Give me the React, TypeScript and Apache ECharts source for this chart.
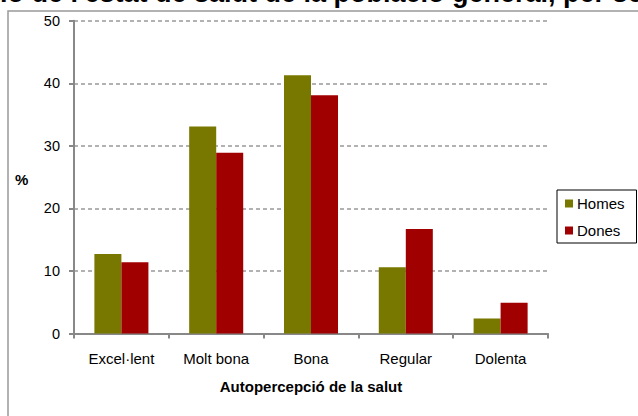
import React, { useEffect, useRef } from "react";
import * as echarts from "echarts";

const categories = ["Excel·lent", "Molt bona", "Bona", "Regular", "Dolenta"];
const homes = [12.7, 33.1, 41.3, 10.6, 2.4];
const dones = [11.4, 28.9, 38.1, 16.7, 4.9];
const seriesNames = ["Homes", "Dones"];
const titleText = "Autopercepció de l'estat de salut de la població general, per sexe";
const xAxisName = "Autopercepció de la salut";
const yAxisName = "%";

export default function App() {
  const ref = useRef<HTMLDivElement>(null);
  useEffect(() => {
    if (!ref.current) return;
    const chart = echarts.init(ref.current, null, { renderer: "svg" });
    const font = "Liberation Sans, Arial, sans-serif";
    chart.setOption({
      animation: false,
      backgroundColor: "#ffffff",
      grid: { left: 74, right: 90, top: 20.8, bottom: 82.5, containLabel: false },
      legend: {
        orient: "vertical",
        left: 557,
        top: 190,
        data: seriesNames,
        icon: "rect",
        itemWidth: 8,
        itemHeight: 8,
        itemGap: 12,
        padding: [6, 12, 5, 8],
        borderColor: "#000",
        borderWidth: 1,
        textStyle: { fontFamily: font, fontSize: 15, color: "#000", padding: [0, 0, 0, -1] },
      },
      xAxis: {
        type: "category",
        data: categories,
        name: xAxisName,
        nameLocation: "middle",
        nameGap: 45,
        nameTextStyle: { fontFamily: font, fontSize: 15, fontWeight: "bold", color: "#000" },
        axisLine: { lineStyle: { color: "#888", width: 2 } },
        axisTick: { show: true, length: 5, lineStyle: { color: "#888", width: 2 } },
        axisLabel: { fontFamily: font, fontSize: 15, color: "#000", margin: 17 },
      },
      yAxis: {
        type: "value",
        min: 0,
        max: 50,
        interval: 10,
        axisLine: { show: true, lineStyle: { color: "#888", width: 2 } },
        axisTick: { show: true, length: 5, lineStyle: { color: "#888", width: 2 } },
        axisLabel: { fontFamily: font, fontSize: 14.5, color: "#000", margin: 14 },
        splitLine: { show: true, lineStyle: { color: "#999", type: [4, 3], width: 1.5 } },
      },
      series: [
        {
          name: seriesNames[0],
          type: "bar",
          data: homes,
          barGap: "0%",
          barCategoryGap: "43%",
          itemStyle: { color: "#787800" },
        },
        {
          name: seriesNames[1],
          type: "bar",
          data: dones,
          itemStyle: { color: "#a00000" },
        },
      ],
      graphic: [
        {
          type: "rect",
          silent: true,
          shape: { x: 8, y: 11, width: 900, height: 700 },
          style: { fill: "none", stroke: "#999", lineWidth: 1.5 },
          z: -1,
        },
        {
          type: "text",
          left: -165,
          top: -21,
          style: {
            text: titleText,
            font: "bold 27px Liberation Sans, Arial, sans-serif",
            fill: "#000",
          },
        },
        {
          type: "text",
          left: 15,
          top: 172,
          style: {
            text: yAxisName,
            font: "bold 15px Liberation Sans, Arial, sans-serif",
            fill: "#000",
          },
        },
      ],
    });
    return () => chart.dispose();
  }, []);
  return (
    <div
      ref={ref}
      style={{ position: "fixed", left: 0, top: 0, width: 638, height: 416 }}
    />
  );
}
